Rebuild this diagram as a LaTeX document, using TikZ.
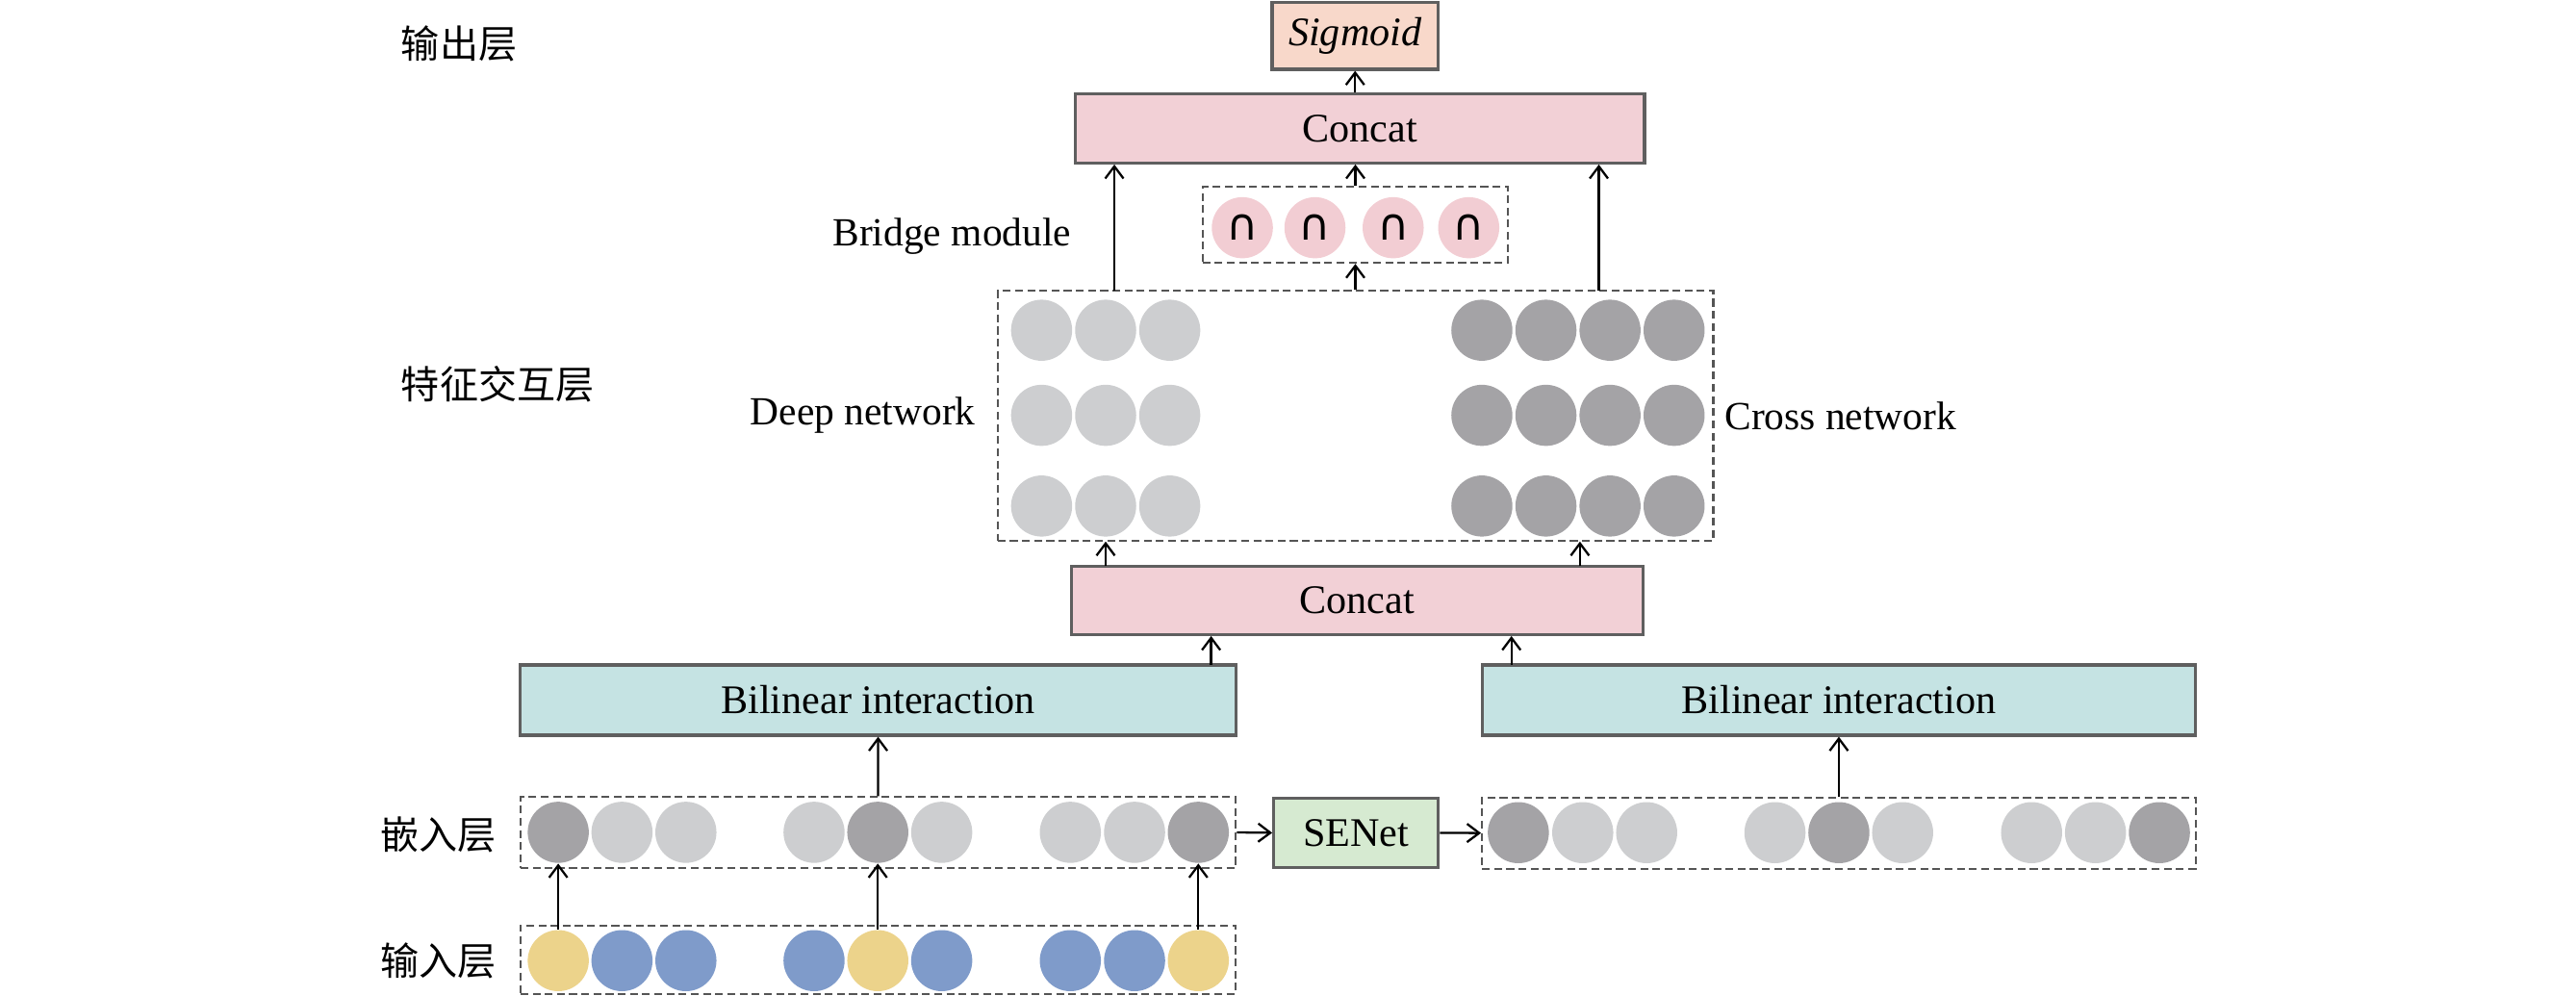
\documentclass[tikz,border=0pt]{standalone}
\usepackage{fontspec}
\setmainfont{Liberation Serif}
\newfontfamily\cjk{Noto Sans CJK SC}
\newfontfamily\dvs{DejaVu Sans}
\usetikzlibrary{arrows.meta,fit,calc}
\definecolor{sigfill}{RGB}{248,216,202}
\definecolor{catfill}{RGB}{242,208,214}
\definecolor{bilfill}{RGB}{197,227,227}
\definecolor{sefill}{RGB}{214,234,209}
\definecolor{lt}{RGB}{205,206,208}
\definecolor{dk}{RGB}{164,163,166}
\definecolor{pk}{RGB}{242,205,211}
\definecolor{yl}{RGB}{236,211,139}
\definecolor{bl}{RGB}{127,155,202}
\definecolor{bordergray}{RGB}{95,95,95}
\definecolor{dashgray}{RGB}{85,85,85}
\def\u{0.017073cm}
\begin{document}
\begin{tikzpicture}[x=0.017073cm,y=-0.017073cm,
  box/.style 2 args={draw=bordergray,line width=0.9pt,inner sep=0pt,
     minimum width={#1*\u},minimum height={#2*\u},font=\fontsize{12}{14}\selectfont},
  dbox/.style={draw=dashgray,dash pattern=on 2.3pt off 1.3pt,line width=0.6pt,inner sep=0pt},
  circ/.style={circle,minimum size=0.635cm,inner sep=0pt},
  arr/.style={-{Straight Barb[length=3.6pt,width=5.4pt]},line width=0.65pt},
  lbl/.style={font=\fontsize{11.8}{14}\selectfont,inner sep=0pt},
  cjklbl/.style={font=\cjk\fontsize{11.4}{14}\selectfont,inner sep=0pt,anchor=west}]
\useasboundingbox (0,0) rectangle (1568,606);

% output layer
\node[box={101.1}{40.7},fill=sigfill] (sig) at (824.85,21.85) {\itshape Sigmoid};
\node[box={346.7}{42.2},fill=catfill] (cat2) at (827.65,78.1) {Concat};

% bridge module
\node[dbox,fit={(732,113.6) (918,160)}] (bridge) {};
\foreach \x [count=\i] in {756.2,800.4,848,894}
  \node[circ,fill=pk,font=\dvs\fontsize{13}{13}\selectfont] (b\i) at (\x,138.6) {∩};

% deep & cross
\node[dbox,fit={(607.3,177.1) (1042.9,329)}] (dc) {};
\foreach \y [count=\j] in {201,252.8,308}{
  \foreach \x [count=\i] in {634,673,712}
    \node[circ,fill=lt] (d\j\i) at (\x,\y) {};
  \foreach \x [count=\i] in {902,941,980,1019}
    \node[circ,fill=dk] (c\j\i) at (\x,\y) {};
}

\node[box={348}{41.6},fill=catfill] (cat1) at (826,365.4) {Concat};
\node[box={435.4}{42.8},fill=bilfill] (bilL) at (534.5,426.1) {Bilinear interaction};
\node[box={434.4}{42.8},fill=bilfill] (bilR) at (1119.3,426.1) {Bilinear interaction};

% embedding layer
\node[dbox,fit={(316.8,485.2) (752.2,528.1)}] (embL) {};
\foreach \x/\c [count=\i] in {339.8/dk,378.6/lt,417.5/lt,495.5/lt,534.3/dk,573.2/lt,651.5/lt,690.6/lt,729.4/dk}
  \node[circ,fill=\c] (e\i) at (\x,506.6) {};
\node[box={100.2}{42.4},fill=sefill] (se) at (825.4,506.9) {SENet};
\node[dbox,fit={(902.1,485.4) (1336.5,528.7)}] (embR) {};
\foreach \x/\c [count=\i] in {924.2/dk,963.4/lt,1002.3/lt,1080.4/lt,1119.3/dk,1158.1/lt,1236.6/lt,1275.5/lt,1314.4/dk}
  \node[circ,fill=\c] (r\i) at (\x,506.8) {};

% input layer
\node[dbox,fit={(316.8,563.3) (752.2,604.8)}] (inp) {};
\foreach \x/\c [count=\i] in {339.8/yl,378.6/bl,417.5/bl,495.5/bl,534.3/yl,573.2/bl,651.5/bl,690.6/bl,729.4/yl}
  \node[circ,fill=\c] (i\i) at (\x,584.7) {};

% labels
\node[cjklbl] (l1) at (243.8,26.4) {输出层};
\node[cjklbl] (l2) at (243.8,234) {特征交互层};
\node[cjklbl] (l3) at (231.4,508) {嵌入层};
\node[cjklbl] (l4) at (231.4,585) {输入层};
\node[lbl,anchor=base east] (tb) at (652.4,149.4) {Bridge module};
\node[lbl,anchor=base east] (td) at (594.1,258.7) {Deep network};
\node[lbl,anchor=base west] (tc) at (1049.4,261.6) {Cross network};

% coordinates for connector ends
\coordinate (dcL) at (678.3,177.1);
\coordinate (dcR) at (973.2,177.1);
\coordinate (c1L) at (673,344.6);
\coordinate (c1R) at (961.7,344.6);
\coordinate (bLt) at (737.2,404.7);
\coordinate (bRt) at (920,404.7);

% connectors
\draw[arr] (sig.south |- cat2.north) -- (sig.south);
\draw[arr] (bridge.north) -- (bridge.north |- cat2.south);
\draw[arr] (bridge.south |- dc.north) -- (bridge.south);
\draw[arr] (dcL) -- (dcL |- cat2.south);
\draw[arr] (dcR) -- (dcR |- cat2.south);
\draw[arr] (c1L) -- (c1L |- dc.south);
\draw[arr] (c1R) -- (c1R |- dc.south);
\draw[arr] (bLt) -- (bLt |- cat1.south);
\draw[arr] (bRt) -- (bRt |- cat1.south);
\draw[arr] (embL.north) -- (bilL.south);
\draw[arr] (embR.north) -- (bilR.south);
\draw[arr] (embL.east) -- (se.west);
\draw[arr] (se.east) -- (embR.west);
\draw[arr] (i1.north) -- (e1.south);
\draw[arr] (i5.north) -- (e5.south);
\draw[arr] (i9.north) -- (e9.south);
\end{tikzpicture}
\end{document}
